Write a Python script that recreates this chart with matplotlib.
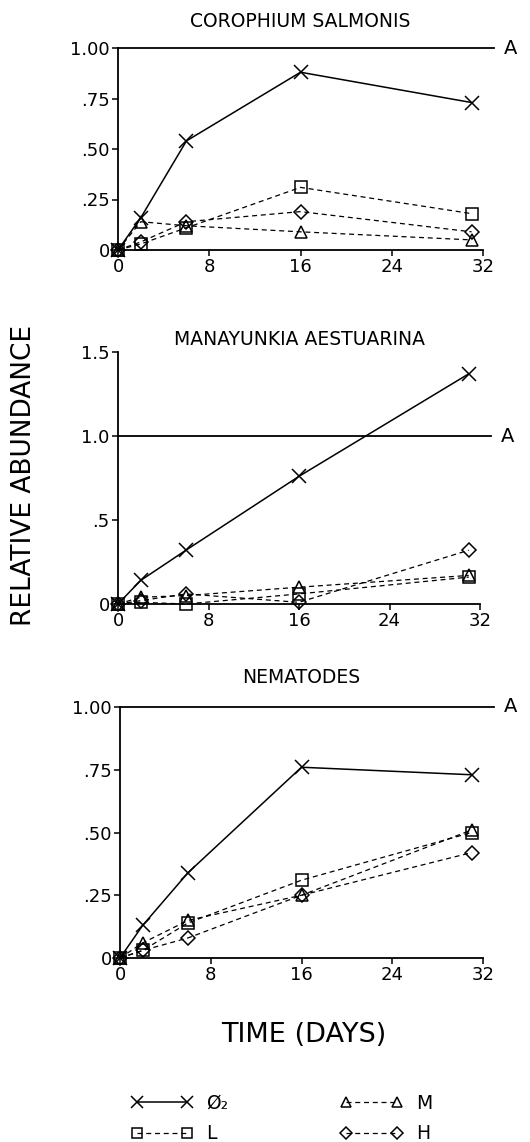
import matplotlib
matplotlib.use('Agg')
import matplotlib.pyplot as plt
from matplotlib.lines import Line2D
from matplotlib.transforms import blended_transform_factory

# ---------------- data ----------------
days = [0, 2, 6, 16, 31]

panel_titles = ['COROPHIUM SALMONIS', 'MANAYUNKIA AESTUARINA', 'NEMATODES']

coro_o2 = [0, 0.16, 0.54, 0.88, 0.73]
coro_l = [0, 0.03, 0.11, 0.31, 0.18]
coro_m = [0, 0.14, 0.12, 0.09, 0.05]
coro_h = [0, 0.04, 0.14, 0.19, 0.09]

mana_o2 = [0, 0.14, 0.32, 0.76, 1.37]
mana_l = [0, 0.01, 0.0, 0.06, 0.16]
mana_m = [0, 0.04, 0.05, 0.10, 0.17]
mana_h = [0, 0.02, 0.06, 0.01, 0.32]

nema_o2 = [0, 0.13, 0.34, 0.76, 0.73]
nema_l = [0, 0.03, 0.14, 0.31, 0.50]
nema_m = [0, 0.06, 0.15, 0.25, 0.51]
nema_h = [0, 0.03, 0.08, 0.25, 0.42]

x_ticks = [0, 8, 16, 24, 32]
yticks_1 = [0, 0.25, 0.5, 0.75, 1.0]
yticklabels_1 = ['0', '.25', '.50', '.75', '1.00']
yticks_15 = [0, 0.5, 1.0, 1.5]
yticklabels_15 = ['0', '.5', '1.0', '1.5']
ref_level = 1.0
ref_label = 'A'

series_labels = ['Ø₂', 'L', 'M', 'H']

# ---------------- figure ----------------
plt.rcParams['font.family'] = ['DejaVu Sans']
fig = plt.figure(figsize=(5.30, 11.42), dpi=100)

W, H = 530.0, 1142.0
def rect(left, top, right, bottom):
    return [left / W, 1 - bottom / H, (right - left) / W, (bottom - top) / H]

axes_specs = [
    (rect(118, 48, 483, 250), 1.0, yticks_1, yticklabels_1,
     [coro_o2, coro_l, coro_m, coro_h], 15),
    (rect(118, 352, 480, 604), 1.5, yticks_15, yticklabels_15,
     [mana_o2, mana_l, mana_m, mana_h], 5),
    (rect(120, 707, 483, 958), 1.0, yticks_1, yticklabels_1,
     [nema_o2, nema_l, nema_m, nema_h], 17),
]

styles = [
    dict(marker='x', ms=10, mew=1.1, ls='-', lw=1.1),
    dict(marker='s', ms=9, mew=1.1, ls=(0, (4, 3)), lw=0.9),
    dict(marker='^', ms=9, mew=1.1, ls=(0, (4, 3)), lw=0.9),
    dict(marker='D', ms=7.5, mew=1.1, ls=(0, (4, 3)), lw=0.9),
]

for (r, ymax, yt, ytl, series, pad), title in zip(axes_specs, panel_titles):
    ax = fig.add_axes(r)
    for vals, st in zip(series, styles):
        ax.plot(days, vals, color='black', mfc='none', mec='black',
                clip_on=False, zorder=3, **st)
    ax.set_xlim(0, 32)
    ax.set_ylim(0, ymax)
    ax.set_xticks(x_ticks)
    ax.set_yticks(yt)
    ax.set_yticklabels(ytl)
    for s in ['top', 'right']:
        ax.spines[s].set_visible(False)
    for s in ['left', 'bottom']:
        ax.spines[s].set_linewidth(1.3)
    ax.tick_params(direction='out', length=4, width=1.1, labelsize=13, pad=2)
    ax.axhline(ref_level, xmin=0, xmax=1.03, color='black', lw=1.3,
               clip_on=False, zorder=2)
    tr = blended_transform_factory(ax.transAxes, ax.transData)
    ax.text(1.075, ref_level, ref_label, transform=tr, fontsize=14,
            ha='center', va='center')
    ax.set_title(title, fontsize=13.5, pad=pad)
    ax.patch.set_alpha(0)

fig.text(24 / W, 1 - 475 / H, 'RELATIVE ABUNDANCE', rotation=90,
         fontsize=19, ha='center', va='center')
fig.text(304 / W, 1 - 1035 / H, 'TIME (DAYS)', fontsize=19.5,
         ha='center', va='center')

leg_styles = [dict(st) for st in styles]
for st in leg_styles:
    st['ms'] = st['ms'] * 0.8
handles = [Line2D([], [], color='black', mfc='none', mec='black', **st)
           for st in leg_styles]
fig.legend(handles, series_labels,
           ncol=2, loc='upper left', bbox_to_anchor=(131 / W, 1 - 1094 / H),
           frameon=False, fontsize=13.5, numpoints=2, handlelength=3.3,
           handletextpad=0.7, columnspacing=6.0, labelspacing=0.6,
           borderpad=0, borderaxespad=0)

fig.savefig('out.png', dpi=100)
